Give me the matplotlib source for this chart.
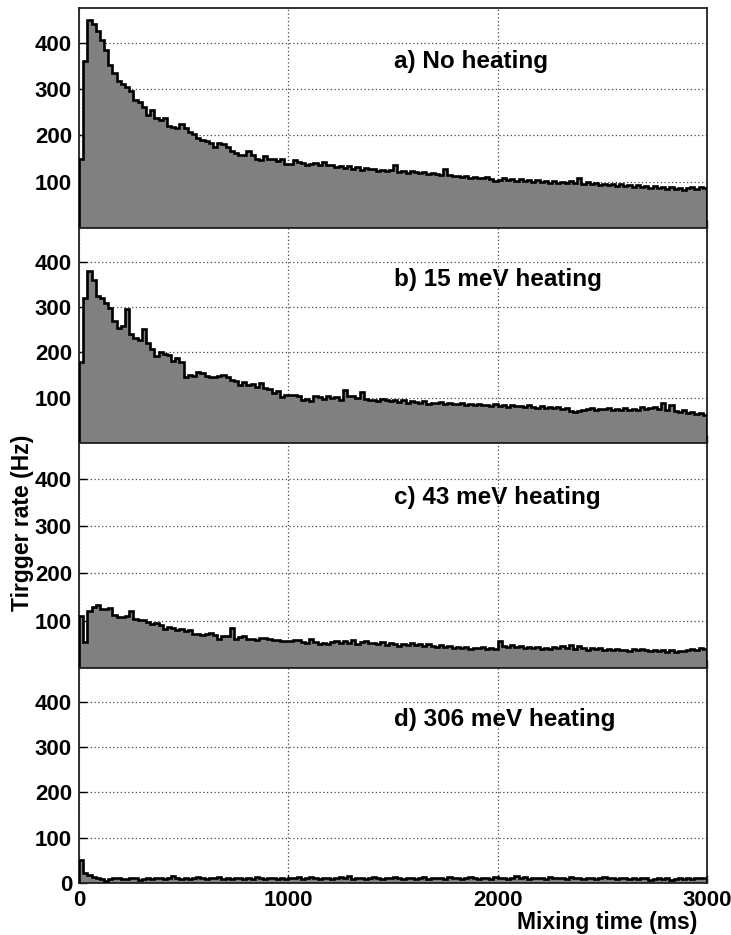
import numpy as np
import matplotlib.pyplot as plt

plt.rcParams['font.family'] = ['Liberation Sans', 'DejaVu Sans']
plt.rcParams['font.weight'] = 'bold'

# histogram bins, 20 ms wide, 0..3000 ms
bin_edges = np.arange(0, 3001, 20)

rate_no_heating = [
    150, 360, 450, 440, 425, 405, 385, 352, 335, 318,
    310, 305, 295, 276, 272, 262, 244, 255, 238, 233,
    238, 220, 218, 215, 225, 215, 208, 203, 195, 190,
    188, 183, 175, 183, 181, 175, 166, 162, 158, 157,
    166, 157, 150, 147, 156, 148, 148, 145, 148, 138,
    138, 146, 142, 140, 137, 138, 141, 136, 143, 135,
    137, 132, 134, 130, 133, 128, 131, 126, 129, 127,
    127, 124, 126, 122, 125, 136, 121, 123, 119, 122,
    120, 118, 121, 116, 119, 117, 115, 128, 114, 112,
    113, 110, 112, 108, 111, 109, 107, 110, 106, 101,
    104, 107, 103, 106, 102, 105, 101, 104, 100, 103,
    99, 102, 98, 101, 97, 100, 98, 101, 97, 108,
    96, 99, 94, 97, 93, 95, 92, 96, 91, 94,
    90, 93, 89, 92, 88, 91, 87, 90, 86, 89,
    85, 88, 84, 87, 83, 86, 89, 84, 88, 86,
]

rate_15mev = [
    180, 320, 380, 360, 325, 320, 310, 298, 270, 255,
    258, 295, 240, 232, 228, 252, 222, 208, 192, 200,
    196, 194, 182, 188, 180, 146, 150, 148, 157, 154,
    149, 145, 146, 147, 150, 146, 140, 137, 128, 135,
    129, 130, 124, 132, 122, 120, 111, 115, 101, 107,
    106, 105, 104, 95, 97, 92, 103, 101, 98, 104,
    99, 102, 96, 116, 104, 103, 100, 112, 97, 95,
    96, 92, 98, 94, 93, 95, 91, 94, 89, 92,
    90, 88, 93, 87, 89, 88, 91, 86, 89, 87,
    86, 89, 85, 87, 84, 86, 83, 85, 82, 86,
    82, 84, 80, 83, 81, 82, 79, 83, 80, 78,
    81, 78, 80, 77, 79, 76, 78, 70, 68, 70,
    73, 75, 77, 74, 76, 75, 78, 74, 76, 73,
    77, 74, 76, 73, 79, 75, 78, 80, 76, 88,
    72, 85, 70, 68, 72, 66, 69, 64, 67, 62,
]

rate_43mev = [
    110, 55, 120, 128, 134, 124, 125, 127, 112, 107,
    108, 110, 120, 104, 102, 101, 98, 92, 94, 91,
    82, 86, 85, 80, 82, 78, 80, 72, 71, 69,
    72, 73, 70, 62, 67, 68, 84, 62, 65, 67,
    62, 61, 60, 63, 64, 61, 59, 60, 57, 58,
    56, 60, 59, 54, 53, 62, 55, 51, 53, 50,
    55, 58, 53, 56, 52, 59, 51, 54, 57, 52,
    53, 50, 54, 49, 52, 50, 47, 51, 48, 52,
    49, 51, 47, 50, 46, 45, 48, 44, 46, 43,
    44, 42, 45, 41, 43, 42, 44, 40, 43, 41,
    58, 47, 45, 48, 44, 46, 43, 45, 42, 44,
    41, 43, 40, 44, 42, 46, 43, 49, 41, 47,
    42, 39, 43, 40, 42, 38, 41, 37, 40, 38,
    39, 36, 40, 37, 41, 38, 35, 39, 36, 38,
    34, 37, 33, 36, 35, 38, 41, 39, 43, 40,
]

rate_306mev = [
    50, 22, 18, 13, 12, 9, 5, 8, 10, 11,
    9, 8, 12, 10, 7, 9, 11, 8, 10, 12,
    9, 11, 15, 10, 8, 12, 9, 11, 13, 10,
    8, 12, 10, 14, 9, 11, 8, 10, 12, 9,
    11, 9, 13, 10, 8, 12, 10, 9, 11, 8,
    12, 10, 14, 9, 11, 13, 10, 8, 12, 10,
    9, 11, 13, 10, 15, 9, 12, 10, 8, 11,
    13, 10, 9, 12, 10, 14, 11, 9, 12, 10,
    8, 11, 13, 9, 12, 10, 11, 9, 13, 10,
    12, 9, 11, 14, 10, 8, 12, 11, 9, 13,
    10, 12, 9, 11, 15, 10, 13, 9, 11, 10,
    12, 9, 14, 11, 10, 12, 9, 13, 10, 11,
    9, 12, 10, 8, 11, 13, 10, 12, 9, 11,
    10, 8, 11, 9, 12, 10, 7, 9, 11, 8,
    10, 7, 9, 11, 8, 10, 9, 12, 10, 11,
]

series = [rate_no_heating, rate_15mev, rate_43mev, rate_306mev]
labels = ['a) No heating', 'b) 15 meV heating', 'c) 43 meV heating', 'd) 306 meV heating']

# panel boxes in pixels (top, bottom) of a 731x935 figure
W, H = 731, 935
panels = [(8, 228), (228, 443), (443, 668), (668, 883)]
x_left, x_right = 79, 707

fig = plt.figure(figsize=(W / 100, H / 100), dpi=100)

axes = []
for i, (top, bottom) in enumerate(panels):
    ax = fig.add_axes([x_left / W, 1 - bottom / H, (x_right - x_left) / W, (bottom - top) / H])
    vals = series[i]
    ax.stairs(vals, bin_edges, fill=True, color='#808080', zorder=2)
    ax.stairs(vals, bin_edges, color='black', linewidth=1.9, zorder=3)

    ax.set_xlim(0, 3000)
    ax.set_ylim(0, 475)
    ax.set_xticks([0, 1000, 2000, 3000])
    if i == 3:
        ax.set_yticks([0, 100, 200, 300, 400])
    else:
        ax.set_yticks([100, 200, 300, 400])
        ax.tick_params(axis='x', labelbottom=False)

    ax.grid(True, linestyle=(0, (1, 2)), color='#444444', linewidth=0.9)
    ax.set_axisbelow(True)
    ax.tick_params(direction='in', length=6, width=1.0, labelsize=16, pad=5)
    for sp in ax.spines.values():
        sp.set_linewidth(1.3)
        sp.set_color('#222222')

    ax.text(1505, 346, labels[i], fontsize=17.5, fontweight='bold', ha='left', va='baseline', zorder=5)
    axes.append(ax)

for lab in axes[3].get_xticklabels() + [l for a in axes for l in a.get_yticklabels()]:
    lab.set_fontweight('bold')

fig.text(23 / W, 1 - 523 / H, 'Tirgger rate (Hz)', rotation=90, fontsize=16.5,
         fontweight='bold', ha='center', va='center')
fig.text(697 / W, 1 - 922 / H, 'Mixing time (ms)', fontsize=16.5,
         fontweight='bold', ha='right', va='center')

fig.savefig('out.png', dpi=100)
